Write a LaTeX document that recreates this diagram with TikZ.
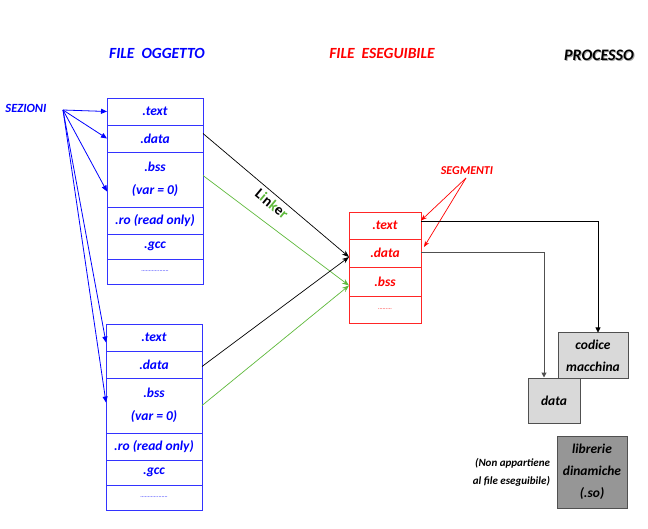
\documentclass[tikz,border=0pt]{standalone}
\usepackage{fontspec}
\setmainfont{Carlito}
\usetikzlibrary{arrows.meta,positioning}
\definecolor{verdelink}{RGB}{95,185,60}
\definecolor{grigiochiaro}{RGB}{217,217,217}
\definecolor{grigioscuro}{RGB}{150,150,150}
\definecolor{grigiobordo}{RGB}{80,80,80}

\begin{document}
\begin{tikzpicture}[x=1pt,y=-1pt,
        font=\bfseries\itshape\fontsize{13.5}{16}\selectfont,
        titolo/.style={font=\bfseries\itshape\fontsize{15.5}{18}\selectfont},
        sezione/.style={draw=blue!80, line width=0.9pt, minimum width=96pt, inner sep=0pt, outer sep=0pt, text=blue, align=center},
        segmento/.style={draw=red!85, line width=0.9pt, minimum width=72pt, inner sep=0pt, outer sep=0pt, text=red},
        processo/.style={draw=grigiobordo, line width=1pt, fill=grigiochiaro, inner sep=0pt, align=center},
        puntini/.style={font=\mdseries\fontsize{6}{7}\selectfont}]
        \useasboundingbox (0,0) rectangle (648,529);

        % Titles
        \node[titolo, text=blue] (tOggetto) at (157,53) {FILE\ \ OGGETTO};
        \node[titolo, text=red] (tEseguibile) at (382,53) {FILE\ \ ESEGUIBILE};
        \node[titolo, text=black!35, font=\bfseries\itshape\fontsize{16}{18}\selectfont] at (600,56) {PROCESSO};
        \node[titolo, text=black, font=\bfseries\itshape\fontsize{16}{18}\selectfont] (tProcesso) at (599,55) {PROCESSO};

        % Draw the two object files
        \foreach \f/\x/\y in {a/155/98, b/154/324} {
            \node[sezione, minimum height=27pt, anchor=north] (\f-text) at (\x,\y) {.text};
            \node[sezione, minimum height=27pt, below=0pt of \f-text] (\f-data) {.data};
            \node[sezione, minimum height=55pt, below=0pt of \f-data] (\f-bss) {.bss\\[7pt](var = 0)};
            \node[sezione, minimum height=27pt, below=0pt of \f-bss] (\f-ro) {.ro (read only)};
            \node[sezione, minimum height=25pt, below=0pt of \f-ro] (\f-gcc) {.gcc};
            \node[sezione, minimum height=25pt, below=0pt of \f-gcc, puntini] (\f-dots) {..................};
        }

        % Sections label
        \node[text=blue, font=\bfseries\itshape\fontsize{12.5}{14}\selectfont] (sezioni) at (26,108) {SEZIONI};
        \coordinate (sez) at (63,110);
        \draw[blue, line width=0.8pt, -{Triangle[length=6pt,width=5pt]}] (sez) -- (a-text.west);
        \draw[blue, line width=0.8pt, -{Triangle[length=6pt,width=5pt]}] (sez) -- (a-data.west);
        \draw[blue, line width=0.8pt, -{Triangle[length=6pt,width=5pt]}] (sez) -- ([yshift=-12pt]a-bss.west);
        \draw[blue, line width=0.8pt, -{Triangle[length=6pt,width=5pt]}] (sez) -- ([yshift=-5pt]b-text.west);
        \draw[blue, line width=0.8pt, -{Triangle[length=6pt,width=5pt]}] (sez) -- ([yshift=3pt]b-bss.west);

        % Draw the executable file
        \node[segmento, minimum height=27pt, anchor=north] (e-text) at (385,212) {.text};
        \node[segmento, minimum height=28pt, below=0pt of e-text] (e-data) {.data};
        \node[segmento, minimum height=29pt, below=0pt of e-data] (e-bss) {.bss};
        \node[segmento, minimum height=27pt, below=0pt of e-bss, puntini] (e-dots) {.........};

        % Segments label
        \node[text=red, font=\bfseries\itshape\fontsize{12}{14}\selectfont] (segmenti) at (467,171) {SEGMENTI};
        \coordinate (seg) at (466,178);
        \draw[red, line width=0.7pt, -{Stealth[length=6pt]}] (seg) -- ([yshift=5pt]e-text.east);
        \draw[red, line width=0.7pt, -{Stealth[length=6pt]}] (seg) -- ([xshift=3pt,yshift=6pt]e-data.east);

        % Linker
        \draw[black, line width=0.7pt, -{Stealth[length=7pt]}] ([yshift=5pt]a-data.east) -- ([yshift=-4pt]e-data.west);
        \draw[verdelink, line width=0.7pt, -{Stealth[length=7pt]}] ([yshift=4pt]a-bss.east) -- ([yshift=-4pt]e-bss.west);
        \draw[black, line width=0.7pt, -{Stealth[length=7pt]}] ([yshift=-2pt]b-data.east) -- ([yshift=-4pt]e-data.west);
        \draw[verdelink, line width=0.7pt, -{Stealth[length=7pt]}] (b-bss.east) -- ([yshift=-4pt]e-bss.west);
        \node[rotate=-40, font=\bfseries\fontsize{15}{17}\selectfont] (linker) at (272,204)
            {L\textcolor{verdelink}{i}n\textcolor{verdelink}{k}e\textcolor{verdelink}{r}};

        % Process
        \node[processo, minimum width=70pt, minimum height=45pt] (codice) at (593,355.5) {codice\\[6pt]macchina};
        \node[processo, minimum width=52pt, minimum height=45pt] (pdata) at (554,400.5) {data};
        \node[processo, fill=grigioscuro, minimum width=70pt, minimum height=72pt] (librerie) at (592,472)
            {librerie\\[6pt]dinamiche\\[6pt](.so)};
        \node[left=3pt of librerie, align=right, font=\bfseries\itshape\fontsize{11}{13}\selectfont] (nota)
            {(Non appartiene\\[5pt]al file eseguibile)};

        \draw[black, line width=0.8pt, -{Triangle[length=5pt,width=5pt]}] ([yshift=4pt]e-text.east) -| ([xshift=5pt]codice.north);
        \draw[grigiobordo, line width=1pt, -{Triangle[length=5pt,width=5pt]}] (e-data.east) -| ([xshift=-10pt]pdata.north);
\end{tikzpicture}
\end{document}
